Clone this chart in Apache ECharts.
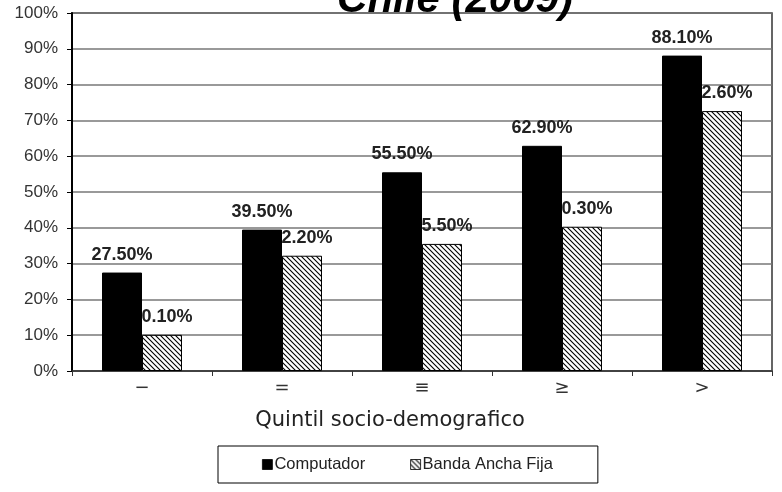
<!DOCTYPE html>
<html>
<head>
<meta charset="utf-8">
<script src="https://cdn.jsdelivr.net/npm/echarts@6/dist/echarts.min.js"></script>
<style>
  html, body { margin: 0; padding: 0; background: #fff; }
  #chart { width: 782px; height: 492px; }
</style>
</head>
<body>
<div id="chart"></div>
<script>
const categories = ['\u2212', '=', '\u2261', '\u2265', '>'];
const computador = [27.5, 39.5, 55.5, 62.9, 88.1];
const bandaAncha = [10.1, 32.2, 35.5, 40.3, 72.6];
const yTicks = [0, 10, 20, 30, 40, 50, 60, 70, 80, 90, 100];

// trama diagonal para la serie de banda ancha
function hatchPattern() {
    const size = 5;
    const c = document.createElement('canvas');
    c.width = size;
    c.height = size;
    const ctx = c.getContext('2d');
    ctx.fillStyle = '#fff';
    ctx.fillRect(0, 0, size, size);
    ctx.strokeStyle = '#000';
    ctx.lineWidth = 1.1;
    ctx.beginPath();
    ctx.moveTo(-1, -1); ctx.lineTo(size + 1, size + 1);
    ctx.moveTo(-1, size - 1); ctx.lineTo(1, size + 1);
    ctx.moveTo(size - 1, -1); ctx.lineTo(size + 1, 1);
    ctx.stroke();
    return c;
}

const chart = echarts.init(document.getElementById('chart'));
const labelStyle = {
    show: true,
    position: 'top',
    distance: 9,
    fontFamily: 'Arial, Liberation Sans',
    fontWeight: 'bold',
    fontSize: 18,
    color: '#222',
    formatter: p => p.value.toFixed(2) + '%'
};

chart.setOption({
    animation: false,
    title: {
        text: 'Chile (2009)',
        left: 450,
        textAlign: 'center',
        top: -26,
        textStyle: {
            fontFamily: 'Arial, Liberation Sans',
            fontStyle: 'italic',
            fontWeight: 'bold',
            fontSize: 42,
            color: '#000'
        }
    },
    legend: {
        left: 218,
        top: 446,
        padding: [10, 45, 10, 44],
        itemGap: 45,
        itemWidth: 10,
        itemHeight: 10,
        itemStyle: { borderColor: '#000', borderWidth: 0.8 },
        borderColor: '#000',
        borderWidth: 1,
        textStyle: { fontFamily: 'Arial, Liberation Sans', fontSize: 16.5, color: '#222', padding: [0, 0, 0, -3] },
        data: [
            { name: 'Computador', icon: 'rect' },
            { name: 'Banda Ancha Fija', icon: 'rect' }
        ]
    },
    grid: {
        left: 72,
        right: 10,
        top: 13,
        bottom: 121,
        show: true,
        borderColor: '#333',
        borderWidth: 1.5
    },
    xAxis: {
        type: 'category',
        data: categories,
        name: 'Quintil socio-demografico',
        nameLocation: 'middle',
        nameGap: 39,
        nameTextStyle: { fontFamily: 'DejaVu Sans', fontSize: 21, color: '#222', padding: [0, 64, 0, 0] },
        axisLine: { lineStyle: { color: '#333', width: 1.5 } },
        axisTick: { show: true, length: 5, lineStyle: { color: '#333' } },
        axisLabel: { fontFamily: 'DejaVu Sans', fontSize: 18, color: '#333', margin: 8 }
    },
    yAxis: {
        type: 'value',
        min: yTicks[0],
        max: yTicks[yTicks.length - 1],
        interval: 10,
        axisLine: { show: true, lineStyle: { color: '#000', width: 2 } },
        axisTick: { show: true, length: 5, lineStyle: { color: '#000' } },
        axisLabel: {
            fontFamily: 'Arial, Liberation Sans',
            fontSize: 17,
            color: '#333',
            margin: 14,
            formatter: v => v + '%'
        },
        splitLine: { lineStyle: { color: '#777', width: 1.5 } }
    },
    series: [
        {
            name: 'Computador',
            type: 'bar',
            zlevel: 1,
            barWidth: 40,
            barGap: '0%',
            data: computador,
            itemStyle: { color: '#000', borderColor: '#000', borderWidth: 1 },
            label: labelStyle
        },
        {
            name: 'Banda Ancha Fija',
            type: 'bar',
            barWidth: 40,
            data: bandaAncha,
            itemStyle: {
                color: { image: hatchPattern(), repeat: 'repeat' },
                borderColor: '#000',
                borderWidth: 1
            },
            label: labelStyle
        }
    ]
});
</script>
</body>
</html>
